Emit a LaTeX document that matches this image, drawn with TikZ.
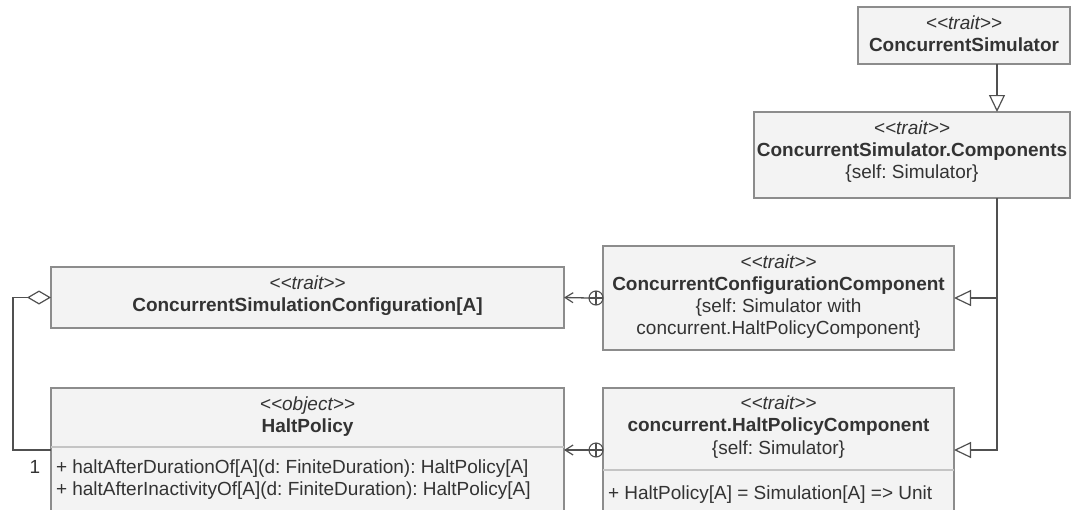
\documentclass[tikz,border=0pt]{standalone}
\usepackage{fontspec}
\setmainfont{Liberation Sans}
\usetikzlibrary{arrows.meta}

\definecolor{boxfill}{HTML}{F3F3F3}
\definecolor{boxline}{HTML}{8C8C8C}
\definecolor{wirec}{HTML}{505050}
\definecolor{ink}{HTML}{333333}
\definecolor{rulec}{HTML}{C4C4C4}

% stereotype text with plain angle brackets (no guillemet ligature)
\newcommand\stype[1]{<\kern0pt<#1>\kern0pt>}

\begin{document}
\frenchspacing
\begin{tikzpicture}[x=1pt,y=-1pt,
  umlbox/.style={draw=boxline, fill=boxfill, line width=1.1pt, anchor=north west,
                 inner sep=0pt, outer sep=0pt},
  txt/.style={inner sep=0pt, outer sep=0pt, text=ink, anchor=base,
              font=\fontsize{19}{22}\selectfont},
  stereo/.style={txt, font=\fontsize{19}{22}\selectfont\itshape},
  title/.style={txt, font=\fontsize{19}{22}\selectfont\bfseries},
  member/.style={txt, anchor=base west},
  divider/.style={draw=rulec, line width=1.1pt},
  wire/.style={draw=wirec, line width=1.3pt},
  gen/.style={wire, -{Triangle[open, length=17pt, width=16pt, line width=1.2pt]}},
  nest/.style={wire, -{Straight Barb[length=8pt, width=10pt, line width=1.2pt]}},
  agg/.style={wire, -{Diamond[open, length=24pt, width=14pt, line width=1.2pt]}},
  nestc/.style={circle, draw=wirec, line width=1.1pt, fill=white, minimum size=14pt,
                inner sep=0pt, outer sep=0pt}
]
\useasboundingbox (0,0) rectangle (1073,509);

% class boxes
\node[umlbox, minimum width=212, minimum height=57]  (cs)   at (858,7)   {};
\node[umlbox, minimum width=316, minimum height=86]  (comp) at (754,112) {};
\node[umlbox, minimum width=351, minimum height=104] (ccc)  at (603,246) {};
\node[umlbox, minimum width=351, minimum height=130] (hpc)  at (603,388) {};
\node[umlbox, minimum width=513, minimum height=61]  (conf) at (51,267)  {};
\node[umlbox, minimum width=513, minimum height=130] (hp)   at (51,388)  {};

% compartment rules
\draw[divider] ([yshift=-59pt]hp.north west) -- ([yshift=-59pt]hp.north east);
\draw[divider] ([yshift=-82pt]hpc.north west) -- ([yshift=-82pt]hpc.north east);

% ConcurrentSimulator
\node[stereo] (csS) at (964,29) {\stype{trait}};
\node[title]  (csN) at (964,51) {ConcurrentSimulator};

% ConcurrentSimulator.Components
\node[stereo] (compS) at (912,134) {\stype{trait}};
\node[title]  (compN) at (912,156) {ConcurrentSimulator.Components};
\node[txt]    (compC) at (912,178) {\{self: Simulator\}};

% ConcurrentConfigurationComponent
\node[stereo] (cccS)  at (778.5,268) {\stype{trait}};
\node[title]  (cccN)  at (778.5,290) {ConcurrentConfigurationComponent};
\node[txt]    (cccC1) at (778.5,312) {\{self: Simulator with};
\node[txt]    (cccC2) at (778.5,334) {concurrent.HaltPolicyComponent\}};

% concurrent.HaltPolicyComponent
\node[stereo] (hpcS) at (778.5,409) {\stype{trait}};
\node[title]  (hpcN) at (778.5,431) {concurrent.HaltPolicyComponent};
\node[txt]    (hpcC) at (778.5,454) {\{self: Simulator\}};
\node[member] (hpcM) at (608,499) {+ HaltPolicy[A] = Simulation[A] => Unit};

% ConcurrentSimulationConfiguration[A]
\node[stereo] (confS) at (307.5,289) {\stype{trait}};
\node[title]  (confN) at (307.5,311) {ConcurrentSimulationConfiguration[A]};

% HaltPolicy
\node[stereo] (hpS)  at (307.5,410) {\stype{object}};
\node[title]  (hpN)  at (307.5,432) {HaltPolicy};
\node[member] (hpM1) at (56,473) {+ haltAfterDurationOf[A](d: FiniteDuration): HaltPolicy[A]};
\node[member] (hpM2) at (56,495) {+ haltAfterInactivityOf[A](d: FiniteDuration): HaltPolicy[A]};

% generalizations
\coordinate (trunk) at (997,0);
\draw[gen] (cs.south -| trunk) -- (comp.north -| trunk);
\draw[gen] (comp.south -| trunk) |- (ccc.east);
\draw[gen] (comp.south -| trunk) |- ([yshift=-62pt]hpc.north east);

% nesting connectors
\node[nestc, anchor=east] (n1) at (ccc.west) {};
\node[nestc, anchor=east] (n2) at ([yshift=-62pt]hpc.north west) {};
\draw[wirec, line width=1.1pt] (n1.north) -- (n1.south) (n1.west) -- (n1.east);
\draw[wirec, line width=1.1pt] (n2.north) -- (n2.south) (n2.west) -- (n2.east);
\draw[nest] (n1.west) -- (conf.east);
\draw[nest] (n2.west) -- ([yshift=-62pt]hp.north east);

% aggregation
\coordinate (aggEnd) at ([yshift=-62pt]hp.north west);
\draw[agg] (aggEnd) -- ++(-38,0) |- (conf.west);
\node[txt] (mult) at (35,473) {1};
\end{tikzpicture}
\end{document}
